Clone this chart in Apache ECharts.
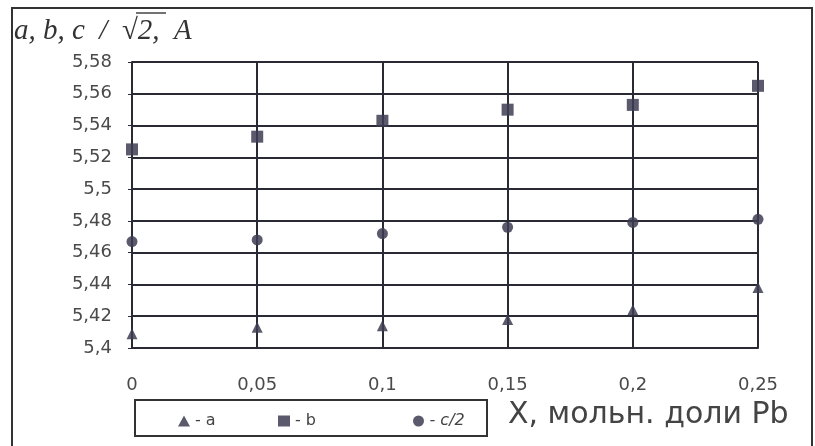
<!DOCTYPE html>
<html><head><meta charset="utf-8">
<script src="https://cdn.jsdelivr.net/npm/echarts@6/dist/echarts.min.js"></script>
<style>html,body{margin:0;padding:0;background:#fff}#c{width:815px;height:446px}</style>
</head><body><div id="c"></div>
<script>
const xValues = [0, 0.05, 0.1, 0.15, 0.2, 0.25];
const aValues = [5.409, 5.413, 5.414, 5.418, 5.424, 5.438];
const bValues = [5.525, 5.533, 5.543, 5.550, 5.553, 5.565];
const c2Values = [5.467, 5.468, 5.472, 5.476, 5.479, 5.481];
const seriesNames = ['a', 'b', 'c/2'];
const yTitle = 'a, b, c  /  √2,  A';
const xTitle = 'X, мольн. доли Pb';

const fmt = v => {
  let s = (Math.round(v * 100) / 100).toString();
  return s.replace('.', ',');
};
const pair = vals => xValues.map((x, i) => [x, vals[i]]);
const mc = '#3d3d52';
const lab = { fontSize: 18, color: '#4a4a4a', fontFamily: 'DejaVu Sans' };
const legText = { fontSize: 16, color: '#444', fontFamily: 'DejaVu Sans' };
const chart = echarts.init(document.getElementById('c'));
chart.setOption({
  animation: false,
  grid: { left: 132, right: 57, top: 62, bottom: 98 },
  xAxis: {
    type: 'value', min: 0, max: 0.25, interval: 0.05,
    axisLine: { show: true, onZero: false, lineStyle: { color: '#2a2a35', width: 2 } },
    axisTick: { show: false },
    splitLine: { show: true, lineStyle: { color: '#2a2a35', width: 2 } },
    axisLabel: Object.assign({ formatter: fmt, margin: 28 }, lab)
  },
  yAxis: {
    type: 'value', min: 5.4, max: 5.58, interval: 0.02,
    axisLine: { show: true, lineStyle: { color: '#2a2a35', width: 2 } },
    axisTick: { show: true, length: 4, lineStyle: { color: '#2a2a35' } },
    splitLine: { show: true, lineStyle: { color: '#2a2a35', width: 2 } },
    axisLabel: Object.assign({ formatter: fmt, margin: 20 }, lab)
  },
  legend: [
    { data: [seriesNames[0]], left: 173, top: 408, itemWidth: 12, itemHeight: 11, itemGap: 4,
      formatter: n => '- ' + n, textStyle: legText },
    { data: [seriesNames[1]], left: 273, top: 408, itemWidth: 12, itemHeight: 11, itemGap: 4,
      formatter: n => '- ' + n, textStyle: legText },
    { data: [seriesNames[2]], left: 408, top: 408, itemWidth: 12, itemHeight: 11, itemGap: 4,
      formatter: n => '- ' + n, textStyle: Object.assign({ fontStyle: 'italic' }, legText) }
  ],
  graphic: [
    { type: 'rect', shape: { x: 12, y: 8, width: 800, height: 445 }, style: { fill: 'none', stroke: '#333', lineWidth: 2 } },
    { type: 'rect', shape: { x: 135, y: 400, width: 352, height: 36 }, style: { fill: 'none', stroke: '#333', lineWidth: 2 } },
    { type: 'text', left: 14, top: 17, style: { text: yTitle, font: 'italic 29px "Liberation Serif"', fill: '#333' } },
    { type: 'line', shape: { x1: 136, y1: 13, x2: 166, y2: 13 }, style: { stroke: '#444', lineWidth: 1.5 } },
    { type: 'text', left: 508, top: 400, style: { text: xTitle, font: '30px "DejaVu Sans"', fill: '#444' } }
  ],
  series: [
    { name: seriesNames[0], type: 'scatter', symbol: 'triangle', symbolSize: 11, itemStyle: { color: mc, opacity: 0.85 }, data: pair(aValues) },
    { name: seriesNames[1], type: 'scatter', symbol: 'rect', symbolSize: 12, itemStyle: { color: mc, opacity: 0.85 }, data: pair(bValues) },
    { name: seriesNames[2], type: 'scatter', symbol: 'circle', symbolSize: 11, itemStyle: { color: mc, opacity: 0.85 }, data: pair(c2Values) }
  ]
});
</script></body></html>
